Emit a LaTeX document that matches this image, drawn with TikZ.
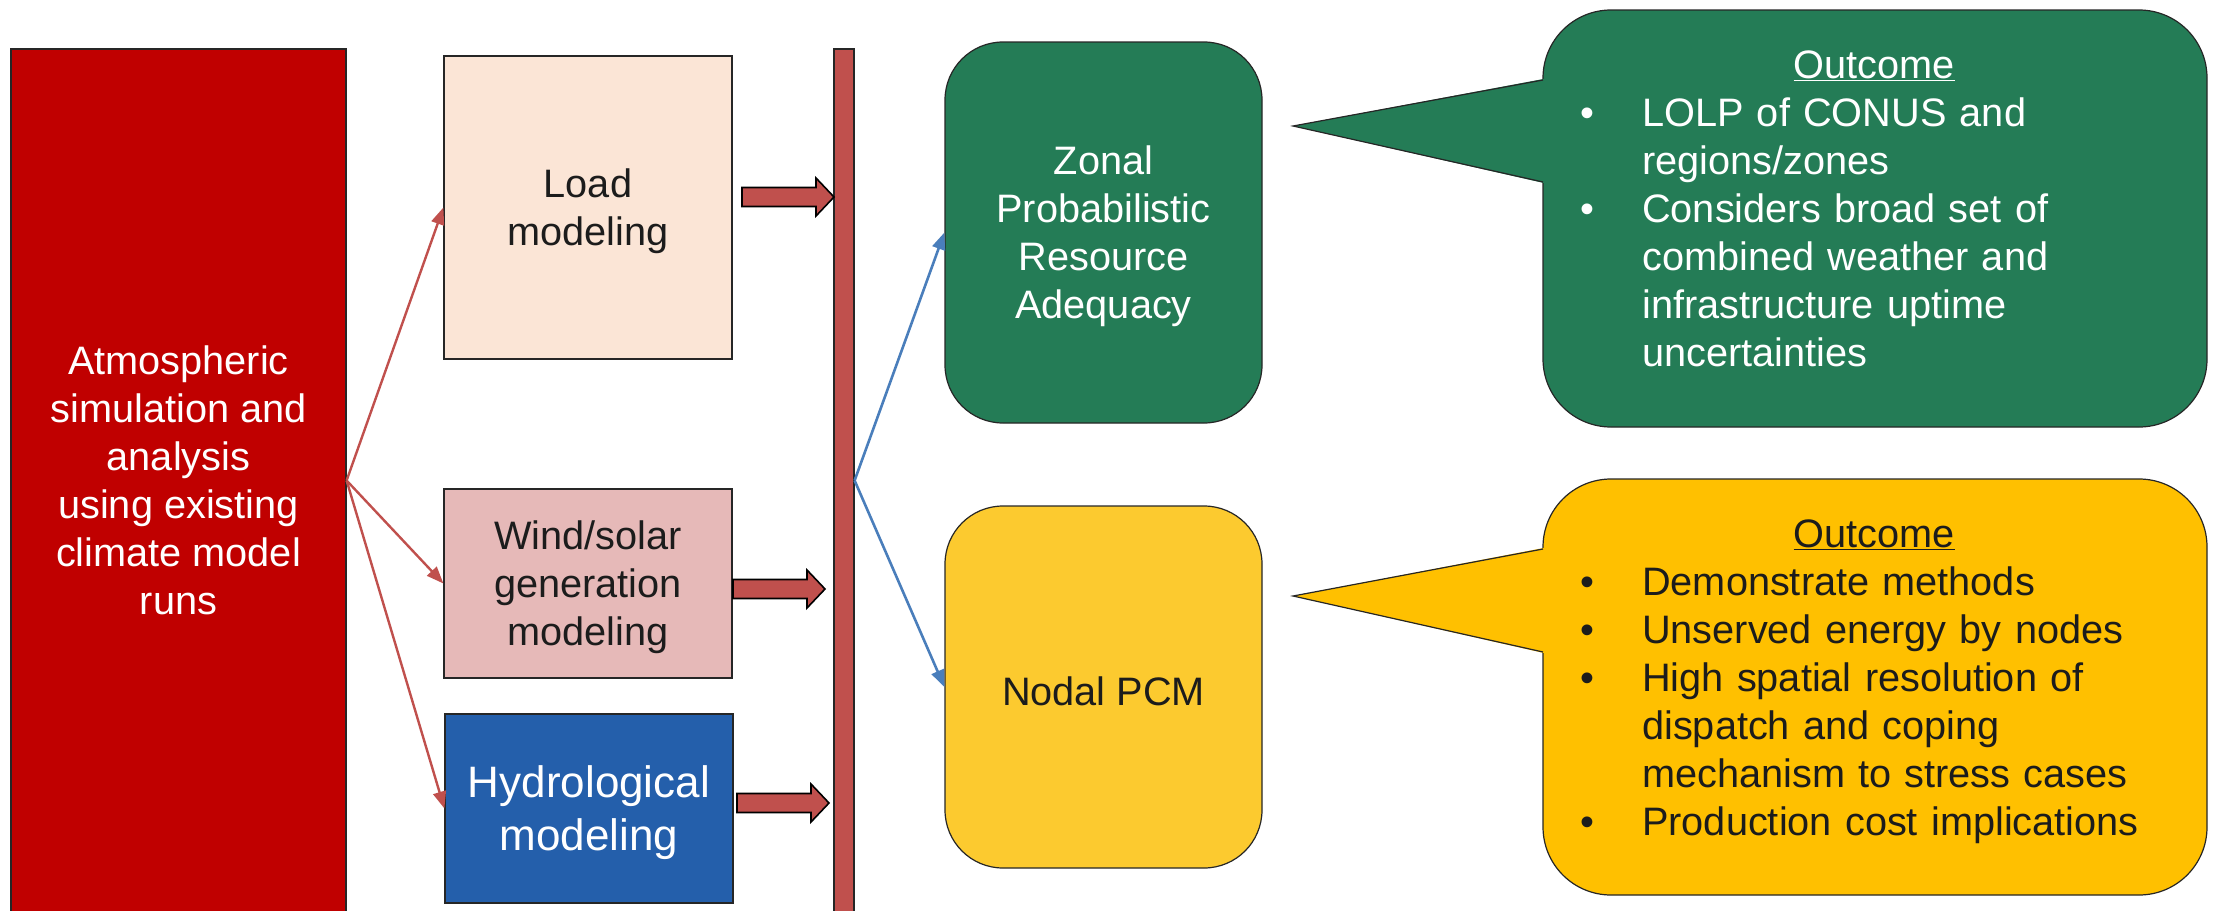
\documentclass[tikz,border=0pt]{standalone}
\usepackage{fontspec}
\setmainfont{Liberation Sans}
\usetikzlibrary{arrows.meta,calc}
\definecolor{atmred}{HTML}{C00000}
\definecolor{loadfill}{HTML}{FBE5D6}
\definecolor{windfill}{HTML}{E6B9B8}
\definecolor{hydrofill}{HTML}{245FAB}
\definecolor{barred}{HTML}{C0504D}
\definecolor{zonalgreen}{HTML}{247C56}
\definecolor{nodalyellow}{HTML}{FCCA2F}
\definecolor{callyellow}{HTML}{FFC000}
\definecolor{linkblue}{HTML}{4A7EBB}
\definecolor{txtdark}{HTML}{1C1C1C}
\definecolor{edge}{HTML}{262626}
\tikzset{
  box/.style={draw=edge, line width=1.2pt, inner sep=0pt, align=center,
    text=txtdark, text depth=0pt, font=\fontsize{39.7}{48}\selectfont},
  roundbox/.style={box, rounded corners=58pt, minimum width=317pt},
  callbox/.style={draw=edge, line width=1.2pt, rounded corners=68pt,
    minimum width=664pt, minimum height=417pt, inner sep=0pt},
  calltext/.style={inner sep=0pt, text width=600pt, align=left, anchor=west,
    font=\fontsize{39.7}{48}\selectfont},
  redlink/.style={draw=barred, line width=2.4pt,
    -{Triangle[length=17pt,width=13pt]}},
  bluelink/.style={draw=linkblue, line width=2.6pt,
    -{Triangle[length=17pt,width=13pt]}},
  blockarrow/.style={draw=black, line width=1.6pt, fill=barred, line join=miter},
  wedgeedge/.style={draw=edge, line width=1.2pt, line join=miter}
}
\newcommand\bkarrow[2]{%
  \draw[blockarrow] (#1,#2-9.5) -- ++(74,0) -- ++(0,-9.5) -- ++(18,19)
    -- ++(-18,19) -- ++(0,-9.5) -- ++(-74,0) -- cycle;}
\newcommand\bul{\makebox[62pt][l]{\textbullet}}
\newcommand\ind{\hspace*{62pt}}
\begin{document}
\begin{tikzpicture}[x=1pt,y=-1pt]
\useasboundingbox (0,0) rectangle (2215,910);

% left source box
\node[box, fill=atmred, text=white, minimum width=335pt, minimum height=863pt]
  (atm) at (178.5,480.5)
  {Atmospheric\\simulation and\\analysis\\using existing\\climate model\\runs};

% modeling boxes
\node[box, fill=loadfill, minimum width=288pt, minimum height=303pt]
  (load) at (588,207.5) {Load\\modeling};
\node[box, fill=windfill, minimum width=288pt, minimum height=189pt]
  (wind) at (588,583.5) {Wind/solar\\generation\\modeling};
\node[box, fill=hydrofill, text=white, minimum width=288pt, minimum height=189pt,
  font=\fontsize{44}{53}\selectfont]
  (hydro) at (589,808.5) {Hydrological\\modeling};

% collector bar
\node[draw=edge, line width=1.2pt, fill=barred, minimum width=20pt,
  minimum height=863pt, inner sep=0pt] (bar) at (844,480.5) {};

% block arrows into the bar
\bkarrow{742}{197}
\bkarrow{733}{589}
\bkarrow{737}{803}

% thin red links
\draw[redlink] (atm.east) -- (load.west);
\draw[redlink] (atm.east) -- (wind.west);
\draw[redlink] (atm.east) -- (hydro.west);

% model boxes
\node[roundbox, fill=zonalgreen, text=white, minimum height=381pt]
  (zonal) at (1103.5,232.5) {Zonal\\Probabilistic\\Resource\\Adequacy};
\node[roundbox, fill=nodalyellow, minimum height=362pt, text height=37pt]
  (nodal) at (1103.5,687) {Nodal PCM};

\draw[bluelink] (bar.east) -- (zonal.west);
\draw[bluelink] (bar.east) -- (nodal.west);

% green callout
\node[callbox, fill=zonalgreen] (gcall) at (1875,218.5) {};
\coordinate (gtip) at (1293,126);
\fill[zonalgreen] (gtip) -- (1546,78.5) -- (1546,183.5) -- cycle;
\draw[wedgeedge] (1543,80) -- (gtip) -- (1543,182);
\node[calltext, text=white] (gtext) at (1580,209) {%
\makebox[588pt][c]{\underline{Outcome}}\\
\bul LOLP of CONUS and\\
\ind regions/zones\\
\bul Considers broad set of\\
\ind combined weather and\\
\ind infrastructure uptime\\
\ind uncertainties};

% yellow callout
\node[callbox, fill=callyellow, minimum height=416pt] (ycall) at (1875,687) {};
\coordinate (ytip) at (1293,596);
\fill[callyellow] (ytip) -- (1546,547.5) -- (1546,653.5) -- cycle;
\draw[wedgeedge] (1543,549) -- (ytip) -- (1543,652);
\node[calltext, text=txtdark] (ytext) at (1580,682) {%
\makebox[588pt][c]{\underline{Outcome}}\\
\bul Demonstrate methods\\
\bul Unserved energy by nodes\\
\bul High spatial resolution of\\
\ind dispatch and coping\\
\ind mechanism to stress cases\\
\bul Production cost implications};
\end{tikzpicture}
\end{document}
